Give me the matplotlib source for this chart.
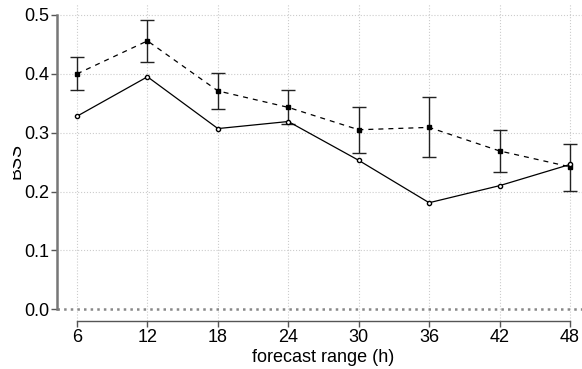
import matplotlib
matplotlib.use('Agg')
import matplotlib.pyplot as plt
from matplotlib.patches import Rectangle

# Data
lead_hours = [6, 12, 18, 24, 30, 36, 42, 48]
bss_solid = [0.328, 0.395, 0.307, 0.319, 0.253, 0.181, 0.210, 0.246]
bss_dashed = [0.400, 0.456, 0.371, 0.343, 0.305, 0.309, 0.269, 0.242]
err_upper = [0.428, 0.492, 0.402, 0.372, 0.344, 0.361, 0.305, 0.281]
err_lower = [0.372, 0.420, 0.341, 0.315, 0.266, 0.258, 0.233, 0.201]
y_ticks = [0.0, 0.1, 0.2, 0.3, 0.4, 0.5]

plt.rcParams['font.family'] = ['Liberation Sans', 'DejaVu Sans']

fig = plt.figure(figsize=(5.82, 3.69), dpi=100)
ax = fig.add_axes([0.0985, 0.130, 1.0132 - 0.0985, 0.9913 - 0.130])

# R-style ranges (4% padding)
ax.set_xlim(4.32, 49.68)
ax.set_ylim(-0.02, 0.52)

# Grid
for x in lead_hours:
    ax.axvline(x, color='#cccccc', linestyle=':', linewidth=0.8, zorder=0)
for y in y_ticks[1:]:
    ax.axhline(y, color='#cccccc', linestyle=':', linewidth=0.8, zorder=0)
ax.axhline(0.0, color='#888888', linestyle=':', linewidth=1.8, zorder=1)

# Error bars for the dashed series
yerr = [[d - lo for d, lo in zip(bss_dashed, err_lower)],
        [hi - d for d, hi in zip(bss_dashed, err_upper)]]
ax.errorbar(lead_hours, bss_dashed, yerr=yerr, fmt='none', ecolor='#222222',
            elinewidth=1.0, capsize=5, capthick=1.0, zorder=2)

ax.plot(lead_hours, bss_dashed, linestyle=(0, (4, 4)), color='black', linewidth=0.9,
        marker='s', markersize=3, markerfacecolor='black', markeredgecolor='black', zorder=3)
ax.plot(lead_hours, bss_solid, linestyle='-', color='black', linewidth=0.9,
        marker='o', markersize=3, markerfacecolor='white', markeredgecolor='black',
        markeredgewidth=1.0, zorder=3)

# Axes styling
for side in ['top', 'right']:
    ax.spines[side].set_visible(False)
ax.spines['left'].set_bounds(0.0, 0.5)
ax.spines['left'].set_color('#777777')
ax.spines['left'].set_linewidth(1.8)
ax.spines['bottom'].set_bounds(6, 48)
ax.spines['bottom'].set_color('#555555')
ax.spines['bottom'].set_linewidth(1.0)

ax.set_xticks(lead_hours)
ax.set_xticklabels([str(h) for h in lead_hours])
ax.set_yticks(y_ticks)
ax.set_yticklabels(['%.1f' % y for y in y_ticks])
ax.tick_params(axis='both', direction='out', length=4, width=1.0, color='#555555',
               labelsize=13, pad=2)
ax.set_xlabel('forecast range (h)', fontsize=13, labelpad=2)

# Partially hidden y label, as in the reference
fig.text(25 / 582, 1 - 161 / 369, 'BSS', rotation=90, fontsize=13,
         ha='right', va='center')
fig.patches.append(Rectangle((0, 0), 13 / 582, 1, transform=fig.transFigure,
                             facecolor='white', edgecolor='none', zorder=10))

fig.savefig('out.png', dpi=100)
